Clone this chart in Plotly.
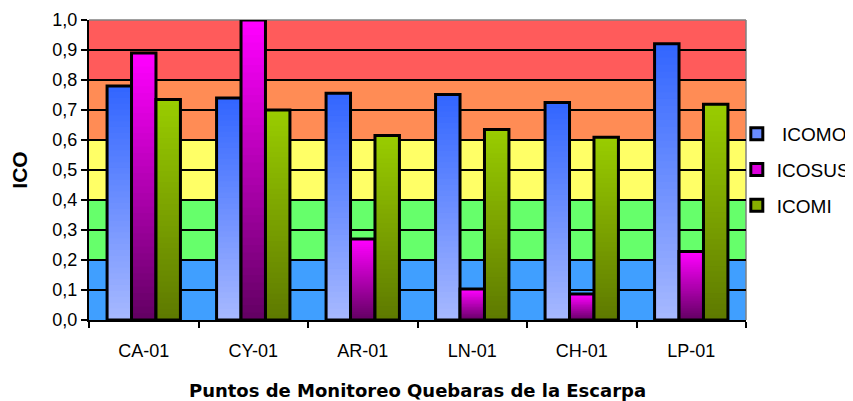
import plotly.graph_objects as go

categories = ["CA-01", "CY-01", "AR-01", "LN-01", "CH-01", "LP-01"]
icomo = [0.78, 0.74, 0.756, 0.752, 0.725, 0.921]
icosus = [0.89, 1.0, 0.27, 0.103, 0.087, 0.228]
icomi = [0.735, 0.70, 0.615, 0.635, 0.609, 0.719]
series_names = [" ICOMO", "ICOSUS", "ICOMI"]
series_values = [icomo, icosus, icomi]
# gradient colours (bottom, top) and legend colour per series
grad_bottom = [(166, 184, 255), (100, 0, 100), (94, 122, 0)]
grad_top = [(51, 102, 255), (255, 0, 255), (153, 204, 0)]
legend_colors = ["#6a8cff", "#dd00dd", "#88b000"]

band_edges = [0.0, 0.2, 0.4, 0.6, 0.8, 1.0]
band_colors = ["#409fff", "#66ff6b", "#ffff66", "#ff8c55", "#ff5b5b"]

y_ticks = [0.0, 0.1, 0.2, 0.3, 0.4, 0.5, 0.6, 0.7, 0.8, 0.9, 1.0]
y_tick_labels = ["0,0", "0,1", "0,2", "0,3", "0,4", "0,5", "0,6", "0,7", "0,8", "0,9", "1,0"]

x_title = "Puntos de Monitoreo Quebaras de la Escarpa"
y_title = "ICO"

FONT = "Arial, Liberation Sans, sans-serif"
TITLE_FONT = "DejaVu Sans, Arial, sans-serif"
N = 40

fig = go.Figure()

for s, (name, vals) in enumerate(zip(series_names, series_values)):
    b, t = grad_bottom[s], grad_top[s]
    for i in range(N):
        f = i / (N - 1)
        col = "rgb(%d,%d,%d)" % tuple(round(b[k] + (t[k] - b[k]) * f) for k in range(3))
        over = 1.0 if i == N - 1 else 1.8
        fig.add_trace(go.Bar(
            x=categories,
            y=[v / N * over for v in vals],
            base=[v * i / N for v in vals],
            offsetgroup=str(s),
            marker=dict(color=col, line=dict(width=0)),
            showlegend=False, hoverinfo="skip", cliponaxis=False,
        ))
    # outline
    fig.add_trace(go.Bar(
        x=categories, y=vals, offsetgroup=str(s),
        marker=dict(color="rgba(0,0,0,0)", line=dict(color="black", width=3)),
        showlegend=False, cliponaxis=False, name=name,
    ))
    # legend entry
    fig.add_trace(go.Bar(
        x=categories, y=[None] * len(categories), offsetgroup=str(s),
        name=name, legendgroup=name,
        marker=dict(color=legend_colors[s], line=dict(color="black", width=3)),
        showlegend=True,
    ))

shapes = []
for k in range(len(band_colors)):
    shapes.append(dict(type="rect", xref="paper", yref="y", x0=0, x1=1,
                       y0=band_edges[k], y1=band_edges[k + 1],
                       fillcolor=band_colors[k], line=dict(width=0), layer="below"))
shapes.append(dict(type="line", xref="paper", yref="paper", x0=0, x1=1, y0=1, y1=1,
                   line=dict(color="#808080", width=1.5), layer="below"))
shapes.append(dict(type="line", xref="paper", yref="paper", x0=1, x1=1, y0=0, y1=1,
                   line=dict(color="#808080", width=1.5), layer="below"))

# page body has an 8px margin, so the figure is drawn 8px in from the top-left
fig.update_layout(
    width=845, height=393,
    margin=dict(l=81, r=107, t=12, b=81, autoexpand=False),
    paper_bgcolor="white", plot_bgcolor="rgba(0,0,0,0)",
    barmode="group", bargap=0.33, bargroupgap=0,
    shapes=shapes,
    font=dict(family=FONT, color="black"),
    legend=dict(x=0.986, xanchor="left", y=0.5, yanchor="middle",
                font=dict(size=19, family=FONT), tracegroupgap=8,
                itemwidth=30, bgcolor="rgba(0,0,0,0)"),
    xaxis=dict(
        tickson="boundaries", ticks="outside", ticklen=6, tickwidth=1.5, tickcolor="black",
        showline=True, linecolor="black", linewidth=2,
        tickfont=dict(size=18, family=FONT), ticklabelstandoff=13,
        title=dict(text="<b>" + x_title + "</b>", font=dict(size=18, family=TITLE_FONT), standoff=26),
        showgrid=False, automargin=False,
    ),
    yaxis=dict(
        range=[0, 1], tickvals=y_ticks, ticktext=y_tick_labels,
        ticks="outside", ticklen=6, tickwidth=1.5, tickcolor="black",
        showline=True, linecolor="black", linewidth=2,
        showgrid=True, gridcolor="black", gridwidth=1.5, zeroline=False,
        tickfont=dict(size=18, family=FONT),
        title=dict(text="<b>" + y_title + "</b>", font=dict(size=21, family=FONT), standoff=20),
        automargin=False,
    ),
)

fig.write_html("out.html")
